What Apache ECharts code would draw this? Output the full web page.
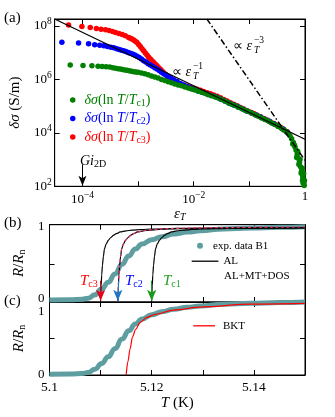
<!DOCTYPE html>
<html><head><meta charset="utf-8">
<script src="https://cdn.jsdelivr.net/npm/echarts@6/dist/echarts.min.js"></script>
<style>html,body{margin:0;padding:0;background:#fff}#c{width:335px;height:417px}</style>
</head><body><div id="c"></div>
<script>
// ---------- Panel (a): log10(eps_T) vs log10(delta sigma) ----------
const xTicksA = [-4, -3, -2, -1];
const xLabelsA = [-4, -2, 0];
const yLabelsA = [2, 4, 6, 8];
const yTicksA = [4, 6, 8];
const seriesNamesA = ['δσ(ln T/Tc1)', 'δσ(ln T/Tc2)', 'δσ(ln T/Tc3)'];

const tc1Points = [
[-4.22,6.54],[-3.99,6.52],[-3.83,6.51],[-3.72,6.49],[-3.645,6.48],[-3.575,6.47],[-3.51,6.46],[-3.455,6.44],[-3.405,6.42],[-3.36,6.40],[-3.32,6.385],[-3.28,6.37],[-3.24,6.355],[-3.20,6.34],[-3.16,6.32],[-3.12,6.305],[-3.08,6.29],[-3.04,6.28],
[-3.00,6.27],[-2.94,6.24],[-2.88,6.21],[-2.82,6.17],[-2.76,6.13],[-2.70,6.09],[-2.64,6.05],[-2.58,6.00],[-2.52,5.96],[-2.46,5.91],[-2.40,5.87],[-2.34,5.83],[-2.28,5.79],[-2.22,5.76],[-2.16,5.72],[-2.10,5.68],[-2.04,5.64],[-1.98,5.60],[-1.92,5.56],[-1.86,5.52],[-1.80,5.48],[-1.74,5.43],[-1.68,5.39],[-1.62,5.35],[-1.56,5.30],[-1.50,5.25],[-1.44,5.19],[-1.38,5.13],[-1.32,5.07],[-1.26,5.02],[-1.20,4.96],[-1.14,4.91],[-1.08,4.85],[-1.02,4.80],[-0.96,4.74],[-0.90,4.68],[-0.84,4.62],[-0.78,4.56],[-0.72,4.50],[-0.66,4.44],[-0.60,4.37],[-0.54,4.31],[-0.48,4.24],[-0.42,4.16],[-0.38,4.11],[-0.34,4.05],[-0.30,3.97],[-0.27,3.89],[-0.24,3.78],[-0.21,3.64],[-0.18,3.47],[-0.16,3.35],[-0.14,3.20],[-0.12,3.05],[-0.10,2.90],[-0.08,2.73],[-0.06,2.58],[-0.05,2.45],[-0.04,2.35],[-0.03,2.25],[-0.02,2.12],[-0.015,2.03],
[-0.22,3.58],[-0.19,3.55],[-0.15,3.08],[-0.13,3.30],[-0.11,2.82],[-0.09,3.00],[-0.07,2.50],[-0.05,2.68],[-0.035,2.12],[-0.025,2.48],[-0.01,2.22],[-0.045,2.22]
];
const tc2Points = [
[-4.37,7.39],[-4.07,7.36],[-3.89,7.33],[-3.78,7.30],[-3.69,7.28],[-3.615,7.255],[-3.55,7.23],[-3.49,7.205],[-3.435,7.18],[-3.385,7.15],[-3.34,7.12],[-3.30,7.09],[-3.26,7.07],[-3.22,7.04],[-3.18,7.01],[-3.14,6.98],[-3.10,6.95],[-3.06,6.91],[-3.02,6.87],
[-2.98,6.82],[-2.94,6.76],[-2.90,6.70],[-2.86,6.65],[-2.82,6.59],[-2.78,6.54],[-2.74,6.49],[-2.70,6.44],[-2.66,6.39],[-2.62,6.33],[-2.58,6.27],[-2.54,6.21],[-2.50,6.16],[-2.46,6.11],[-2.42,6.06],[-2.36,5.99],[-2.30,5.92],[-2.24,5.85],[-2.18,5.79],[-2.12,5.73],[-2.06,5.68],[-2.00,5.63],[-1.92,5.57],[-1.84,5.51],[-1.76,5.45],[-1.68,5.40],[-1.60,5.34],[-1.52,5.27],[-1.44,5.19],[-1.36,5.11],[-1.28,5.04],[-1.20,4.97],[-1.12,4.89],[-1.04,4.81],[-0.96,4.74],[-0.88,4.67],[-0.80,4.59],[-0.72,4.51],[-0.64,4.43],[-0.56,4.34],[-0.48,4.25],[-0.40,4.15],[-0.32,4.02]
];
const tc3Points = [
[-4.25,8.04],[-4.01,7.98],[-3.86,7.94],[-3.75,7.90],[-3.665,7.88],[-3.585,7.855],[-3.52,7.83],[-3.46,7.79],[-3.405,7.755],[-3.345,7.715],[-3.285,7.68],[-3.23,7.63],[-3.17,7.57],[-3.14,7.54],[-3.11,7.51],[-3.08,7.47],[-3.05,7.43],[-3.02,7.38],[-2.99,7.31],[-2.96,7.23],[-2.93,7.15],[-2.90,7.07],[-2.87,6.99],[-2.84,6.91],[-2.81,6.83],[-2.78,6.76],[-2.75,6.70],[-2.72,6.63],[-2.69,6.57],[-2.66,6.51],[-2.63,6.44],[-2.60,6.38],[-2.57,6.31],[-2.54,6.25],[-2.51,6.19],[-2.48,6.14],[-2.45,6.08],[-2.42,6.03],[-2.38,5.98],[-2.34,5.93],[-2.30,5.88],[-2.26,5.84],[-2.21,5.80],[-2.16,5.76],[-2.11,5.73],[-2.06,5.70],[-2.00,5.67],[-1.94,5.63],[-1.88,5.59],[-1.82,5.55],[-1.76,5.50],[-1.70,5.46],[-1.64,5.42],[-1.58,5.37],[-1.52,5.31],[-1.46,5.25],[-1.40,5.19],[-1.34,5.13],[-1.28,5.07],[-1.22,5.01],[-1.16,4.95],[-1.10,4.89],[-1.04,4.83],[-0.98,4.77],[-0.92,4.72],[-0.86,4.66],[-0.80,4.60],[-0.74,4.54],[-0.68,4.48],[-0.62,4.41],[-0.56,4.35],[-0.50,4.28],[-0.44,4.21],[-0.38,4.13],[-0.32,4.04]
];
const slopeMinus1 = [[-4.5, 8.26], [0, 3.76]];
const slopeMinus3 = [[-1.764, 8.26], [0, 2.97]];
const gi2DLogEps = -4;

// ---------- Panels (b), (c): R/Rn vs T ----------
const tTicks = [5.11, 5.12, 5.13, 5.14];
const tLabels = [5.1, 5.12, 5.14];
const rTicks = [0.5];
const rLabels = [0, 1];
const tc3 = 5.1100, tc2 = 5.11337, tc1 = 5.1200;

const expB1 = [[5.1000,0.010],[5.1040,0.012],[5.1064,0.020],[5.1076,0.035],[5.1089,0.080],[5.1102,0.158],[5.1115,0.250],[5.1128,0.360],[5.1142,0.492],[5.1155,0.605],[5.1168,0.700],[5.1181,0.767],[5.1200,0.825],[5.1220,0.866],[5.1243,0.901],[5.1270,0.928],[5.1295,0.946],[5.1340,0.970],[5.1393,0.982],[5.1450,0.993],[5.1500,1.000]];
const alTc3 = [[5.1100,0],[5.1101,0.20],[5.11022,0.35],[5.11036,0.48],[5.11055,0.60],[5.11075,0.70],[5.1111,0.77],[5.11154,0.82],[5.1120,0.855],[5.11251,0.885],[5.1132,0.91],[5.11382,0.93],[5.1150,0.945],[5.11611,0.955],[5.1180,0.963],[5.1200,0.970],[5.1250,0.977],[5.1300,0.981],[5.1400,0.985],[5.1500,0.988]];
const alTc2 = [[5.11337,0],[5.11347,0.20],[5.11359,0.35],[5.11373,0.48],[5.11392,0.60],[5.11412,0.70],[5.11447,0.77],[5.11491,0.82],[5.11537,0.855],[5.11588,0.885],[5.11657,0.91],[5.11719,0.93],[5.11837,0.945],[5.11948,0.955],[5.1214,0.963],[5.1234,0.970],[5.1284,0.977],[5.1334,0.981],[5.1434,0.985],[5.1500,0.987]];
const alTc1 = [[5.1200,0],[5.1201,0.20],[5.12022,0.35],[5.12036,0.48],[5.12055,0.60],[5.12075,0.70],[5.1211,0.77],[5.12154,0.82],[5.1220,0.855],[5.12251,0.885],[5.1232,0.91],[5.12382,0.93],[5.1250,0.945],[5.12611,0.955],[5.1280,0.963],[5.1300,0.970],[5.1350,0.977],[5.1400,0.981],[5.1500,0.985]];
const alMtDos = [[5.11337,0],[5.11347,0.20],[5.11359,0.35],[5.11373,0.48],[5.11392,0.60],[5.11412,0.70],[5.11447,0.77],[5.11491,0.82],[5.11537,0.855],[5.11588,0.885],[5.11657,0.91],[5.11719,0.93],[5.11837,0.947],[5.11948,0.958],[5.1214,0.968],[5.1234,0.976],[5.1284,0.984],[5.1334,0.989],[5.1434,0.995],[5.1500,0.998]];
const bkt = [[5.11500,0],[5.11533,0.18],[5.11578,0.36],[5.11623,0.52],[5.11689,0.63],[5.11774,0.72],[5.11905,0.79],[5.12067,0.83],[5.12425,0.89],[5.12947,0.93],[5.13925,0.97],[5.1500,0.98]];

// ---------- styling ----------
const serif = 'Liberation Serif';
const BLACK = '#000';
const TEAL = '#5f9ea0';

function powLabel(v) {
  if (Math.abs(v) < 1e-9) return '{n|1}';
  const e = Math.round(v);
  return '{n|10}{sup|' + (e < 0 ? '\u2212' + (-e) : e) + '}';
}
const powRich = {
  n: {fontSize: 13, fontFamily: serif, color: BLACK},
  sup: {fontSize: 9.5, fontFamily: serif, color: BLACK, padding: [0, 0, 8, 0]}
};

function axis(o) {
  return Object.assign({
    type: 'value',
    axisLine: {show: true, onZero: false, lineStyle: {color: BLACK, width: 1}},
    axisTick: {show: true, inside: true, length: 5, lineStyle: {color: BLACK, width: 1}, customValues: o.ticks},
    axisLabel: o.labels ? Object.assign({show: true, customValues: o.labels, color: BLACK, fontFamily: serif, fontSize: 13}, o.labelOpt || {}) : {show: false},
    splitLine: {show: false}
  }, o.base);
}

const xAxes = [
  axis({base: {gridIndex: 0, position: 'bottom', min: -4.5, max: 0,
      name: '{e|ε}{s|T}', nameLocation: 'middle', nameGap: 14,
      nameTextStyle: {rich: {e: {fontStyle: 'italic', fontSize: 15, fontFamily: serif, color: BLACK}, s: {fontStyle: 'italic', fontSize: 10, fontFamily: serif, color: BLACK, padding: [6, 0, 0, 0]}}}},
    ticks: xTicksA, labels: xLabelsA, labelOpt: {formatter: powLabel, rich: powRich, margin: 4}}),
  axis({base: {gridIndex: 0, position: 'top', min: -4.5, max: 0}, ticks: xTicksA}),
  axis({base: {gridIndex: 1, position: 'bottom', min: 5.1, max: 5.15}, ticks: tTicks}),
  axis({base: {gridIndex: 1, position: 'top', min: 5.1, max: 5.15}, ticks: tTicks}),
  axis({base: {gridIndex: 2, position: 'bottom', min: 5.1, max: 5.15,
      name: '{i|T} (K)', nameLocation: 'middle', nameGap: 21,
      nameTextStyle: {fontSize: 15, fontFamily: serif, color: BLACK, rich: {i: {fontStyle: 'italic', fontSize: 15, fontFamily: serif, color: BLACK}}}},
    ticks: tTicks, labels: tLabels, labelOpt: {formatter: v => String(+v.toFixed(2)), fontSize: 13.5, margin: 5}}),
  axis({base: {gridIndex: 2, position: 'top', min: 5.1, max: 5.15}, ticks: tTicks})
];

const rNameStyle = {fontSize: 15, fontFamily: serif, color: BLACK, rich: {
  i: {fontStyle: 'italic', fontSize: 15, fontFamily: serif, color: BLACK},
  s: {fontSize: 10, fontFamily: serif, color: BLACK, padding: [6, 0, 0, 0]}}};

const yAxes = [
  axis({base: {gridIndex: 0, position: 'left', min: 2, max: 8.26,
      name: '{i|δσ} (S/m)', nameLocation: 'middle', nameRotate: 90, nameGap: 28,
      nameTextStyle: {fontSize: 15, fontFamily: serif, color: BLACK, rich: {i: {fontStyle: 'italic', fontSize: 15, fontFamily: serif, color: BLACK}}}},
    ticks: yTicksA, labels: yLabelsA, labelOpt: {formatter: powLabel, rich: powRich, margin: 3}}),
  axis({base: {gridIndex: 0, position: 'right', min: 2, max: 8.26}, ticks: yTicksA}),
  axis({base: {gridIndex: 1, position: 'left', min: -0.017, max: 1.028,
      name: '{i|R}/{i|R}{s|n}', nameLocation: 'middle', nameRotate: 90, nameGap: 20, nameTextStyle: rNameStyle},
    ticks: rTicks, labels: rLabels, labelOpt: {margin: 5, formatter: v => v === 0 ? '{hi|0}' : '{n|1}',
      rich: {n: {fontSize: 13, fontFamily: serif, color: BLACK}, hi: {fontSize: 13, fontFamily: serif, color: BLACK, padding: [0, 0, 5, 0]}}}}),
  axis({base: {gridIndex: 1, position: 'right', min: -0.017, max: 1.028}, ticks: rTicks}),
  axis({base: {gridIndex: 2, position: 'left', min: 0, max: 1,
      name: '{i|R}/{i|R}{s|n}', nameLocation: 'middle', nameRotate: 90, nameGap: 20, nameTextStyle: rNameStyle},
    ticks: rTicks, labels: rLabels, labelOpt: {margin: 5, formatter: v => v === 1 ? '{lo|1}' : '{n|0}',
      rich: {n: {fontSize: 13, fontFamily: serif, color: BLACK}, lo: {fontSize: 13, fontFamily: serif, color: BLACK, padding: [20, 0, 0, 0]}}}}),
  axis({base: {gridIndex: 2, position: 'right', min: 0, max: 1}, ticks: rTicks})
];

const arrowLine = (x, y0, y1, color) => [{coord: [x, y0], lineStyle: {color: color}}, {coord: [x, y1]}];

const option = {
  animation: false,
  backgroundColor: '#fff',
  textStyle: {fontFamily: serif},
  grid: [
    {left: 49.5, top: 19, width: 255.5, height: 167.3, show: true, borderColor: BLACK, borderWidth: 1},
    {left: 49.5, top: 224.7, width: 255.5, height: 77.3, show: true, borderColor: BLACK, borderWidth: 1},
    {left: 49.5, top: 302, width: 255.5, height: 73, show: true, borderColor: BLACK, borderWidth: 1}
  ],
  xAxis: xAxes,
  yAxis: yAxes,
  legend: [
    {orient: 'vertical', left: 70, top: 92, padding: 0, itemGap: 2.5, itemWidth: 5.5, itemHeight: 5.5, icon: 'circle', selectedMode: false,
      data: [
        {name: seriesNamesA[0], textStyle: {color: '#008000'}},
        {name: seriesNamesA[1], textStyle: {color: '#0000ff'}},
        {name: seriesNamesA[2], textStyle: {color: '#ff0000'}}
      ],
      formatter: n => '{i|δσ}{r|(ln }{i|T}{r|/}{i|T}{s|' + n.slice(-3, -1) + '}{r|)}',
      textStyle: {fontFamily: serif, fontSize: 14, lineHeight: 16, padding: [0, 0, 0, 4], rich: {
        i: {fontStyle: 'italic', fontSize: 14, fontFamily: serif},
        r: {fontSize: 14, fontFamily: serif},
        s: {fontSize: 10, fontFamily: serif, padding: [6, 0, 0, 0]}}}},
    {left: 197, top: 240.3, padding: 0, itemWidth: 6, itemHeight: 6, selectedMode: false,
      data: [{name: 'exp. data B1', icon: 'circle'}],
      textStyle: {fontFamily: serif, fontSize: 11, color: BLACK, padding: [0, 0, 0, 5]}},
    {left: 191.7, top: 255.7, padding: 0, itemWidth: 26.7, itemHeight: 1.3, selectedMode: false,
      data: [{name: 'AL', icon: 'rect'}], textStyle: {fontFamily: serif, fontSize: 11, color: BLACK}},
    {left: 193, top: 270.5, padding: 0, itemWidth: 26, itemHeight: 1.3, selectedMode: false,
      data: [{name: 'AL+MT+DOS', icon: 'rect', itemStyle: {opacity: 0}}], textStyle: {fontFamily: serif, fontSize: 11, color: BLACK}},
    {left: 193.3, top: 320.3, padding: 0, itemWidth: 21.7, itemHeight: 1.3, selectedMode: false,
      data: [{name: 'BKT', icon: 'rect'}], textStyle: {fontFamily: serif, fontSize: 11, color: BLACK, padding: [0, 0, 0, 3]}}
  ],
  series: [
    {name: seriesNamesA[2], type: 'scatter', xAxisIndex: 0, yAxisIndex: 0, data: tc3Points, symbolSize: 5.5, itemStyle: {color: '#ff0000', opacity: 1}, z: 2},
    {name: seriesNamesA[1], type: 'scatter', xAxisIndex: 0, yAxisIndex: 0, data: tc2Points, symbolSize: 5.5, itemStyle: {color: '#0000ff', opacity: 1}, z: 3},
    {name: seriesNamesA[0], type: 'scatter', xAxisIndex: 0, yAxisIndex: 0, data: tc1Points, symbolSize: 5.5, itemStyle: {color: '#008000', opacity: 1}, z: 4},
    {name: 'fit1', type: 'line', xAxisIndex: 0, yAxisIndex: 0, data: slopeMinus1, symbol: 'none', lineStyle: {color: BLACK, width: 1.3}, z: 6,
      markLine: {silent: true, symbol: ['none', 'arrow'], symbolSize: [6, 10], label: {show: false}, lineStyle: {type: 'solid', width: 1, color: BLACK},
        data: [arrowLine(gi2DLogEps, 2.82, 2.02, BLACK)]}},
    {name: 'fit3', type: 'line', xAxisIndex: 0, yAxisIndex: 0, data: slopeMinus3, symbol: 'none', lineStyle: {color: BLACK, width: 1.5, type: [6, 2.5, 1.5, 2.5]}, z: 6},

    {name: 'exp. data B1', type: 'line', xAxisIndex: 2, yAxisIndex: 2, data: expB1, symbol: 'none', smooth: 0.5, smoothMonotone: 'x', clip: false, lineStyle: {color: TEAL, width: 5}, itemStyle: {color: TEAL}, z: 2},
    {name: 'AL', type: 'line', xAxisIndex: 2, yAxisIndex: 2, data: alTc3, symbol: 'none', smooth: 0.3, smoothMonotone: 'x', lineStyle: {color: BLACK, width: 1.2}, itemStyle: {color: BLACK}, z: 3},
    {name: 'AL', type: 'line', xAxisIndex: 2, yAxisIndex: 2, data: alTc2, symbol: 'none', smooth: 0.3, smoothMonotone: 'x', lineStyle: {color: BLACK, width: 1.2}, itemStyle: {color: BLACK}, z: 3},
    {name: 'AL', type: 'line', xAxisIndex: 2, yAxisIndex: 2, data: alTc1, symbol: 'none', smooth: 0.3, smoothMonotone: 'x', lineStyle: {color: BLACK, width: 1.2}, itemStyle: {color: BLACK}, z: 3},
    {name: 'AL+MT+DOS', type: 'line', xAxisIndex: 2, yAxisIndex: 2, data: alMtDos, symbol: 'none', smooth: 0.3, smoothMonotone: 'x', lineStyle: {color: '#e8336b', width: 1.2, type: [3, 2.5]}, itemStyle: {color: '#e8336b'}, z: 4,
      markLine: {silent: true, symbol: ['none', 'arrow'], symbolSize: [7, 11], label: {show: false}, lineStyle: {type: 'solid', width: 1},
        data: [arrowLine(tc3, 0.27, 0.0, '#e3001b'), arrowLine(tc2, 0.27, 0.0, '#1f77c4'), arrowLine(tc1, 0.27, 0.0, '#1a9a1a')]}},

    {name: 'exp. data B1', type: 'line', xAxisIndex: 4, yAxisIndex: 4, data: expB1, symbol: 'none', smooth: 0.5, smoothMonotone: 'x', clip: false, lineStyle: {color: TEAL, width: 5}, itemStyle: {color: TEAL}, z: 2},
    {name: 'BKT', type: 'line', xAxisIndex: 4, yAxisIndex: 4, data: bkt, symbol: 'none', smooth: 0.3, smoothMonotone: 'x', lineStyle: {color: '#ff0000', width: 1.2}, itemStyle: {color: '#ff0000'}, z: 3}
  ],
  graphic: [
    {type: 'text', x: 4, y: 18, style: {text: '(a)', fontSize: 15, fontFamily: serif, fill: BLACK, verticalAlign: 'middle'}},
    {type: 'text', x: 4, y: 223, style: {text: '(b)', fontSize: 15, fontFamily: serif, fill: BLACK, verticalAlign: 'middle'}},
    {type: 'text', x: 4, y: 301, style: {text: '(c)', fontSize: 15, fontFamily: serif, fill: BLACK, verticalAlign: 'middle'}},
    {type: 'text', x: 172, y: 72, style: {text: '∝ {i|ε}', fontSize: 14, fontFamily: serif, fill: BLACK, verticalAlign: 'middle', rich: {i: {fontStyle: 'italic', fontSize: 14, fontFamily: serif}}}},
    {type: 'text', x: 193, y: 76.5, style: {text: 'T', fontSize: 9.5, fontStyle: 'italic', fontFamily: serif, fill: BLACK, verticalAlign: 'middle'}},
    {type: 'text', x: 193, y: 66.5, style: {text: '\u22121', fontSize: 9.5, fontFamily: serif, fill: BLACK, verticalAlign: 'middle'}},
    {type: 'text', x: 233, y: 46, style: {text: '∝ {i|ε}', fontSize: 14, fontFamily: serif, fill: BLACK, verticalAlign: 'middle', rich: {i: {fontStyle: 'italic', fontSize: 14, fontFamily: serif}}}},
    {type: 'text', x: 254, y: 50.5, style: {text: 'T', fontSize: 9.5, fontStyle: 'italic', fontFamily: serif, fill: BLACK, verticalAlign: 'middle'}},
    {type: 'text', x: 254, y: 40.5, style: {text: '\u22123', fontSize: 9.5, fontFamily: serif, fill: BLACK, verticalAlign: 'middle'}},
    {type: 'text', x: 80, y: 161, style: {text: '{i|Gi}{s|2D}', fill: BLACK, verticalAlign: 'middle', rich: {i: {fontStyle: 'italic', fontSize: 14, fontFamily: serif}, s: {fontSize: 10, fontFamily: serif, padding: [6, 0, 0, 0]}}}},
    {type: 'text', x: 80, y: 281, style: {text: '{i|T}{s|c3}', fill: '#ff0000', verticalAlign: 'middle', rich: {i: {fontStyle: 'italic', fontSize: 15, fontFamily: serif}, s: {fontSize: 10, fontFamily: serif, padding: [6, 0, 0, 0]}}}},
    {type: 'text', x: 125, y: 281, style: {text: '{i|T}{s|c2}', fill: '#0000ff', verticalAlign: 'middle', rich: {i: {fontStyle: 'italic', fontSize: 15, fontFamily: serif}, s: {fontSize: 10, fontFamily: serif, padding: [6, 0, 0, 0]}}}},
    {type: 'text', x: 163, y: 281, style: {text: '{i|T}{s|c1}', fill: '#22a022', verticalAlign: 'middle', rich: {i: {fontStyle: 'italic', fontSize: 15, fontFamily: serif}, s: {fontSize: 10, fontFamily: serif, padding: [6, 0, 0, 0]}}}}
  ]
};

const chart = echarts.init(document.getElementById('c'), null, {renderer: 'canvas'});
chart.setOption(option);
</script></body></html>
